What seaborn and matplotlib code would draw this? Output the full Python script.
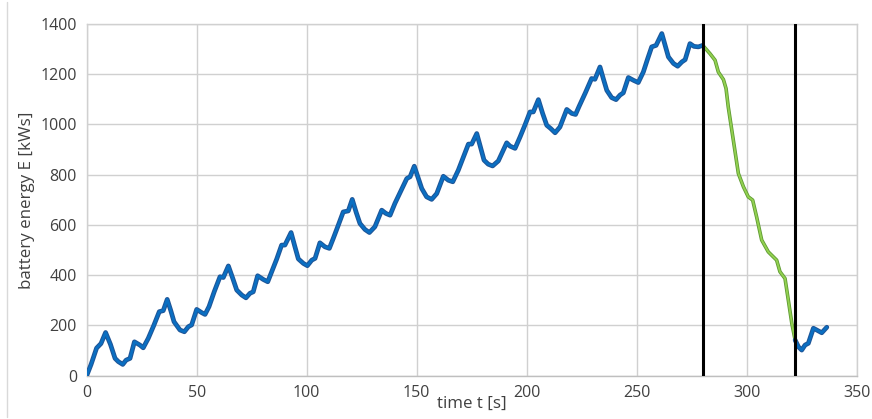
import matplotlib
matplotlib.use("Agg")
import matplotlib.pyplot as plt
import matplotlib.patheffects as pe
import seaborn as sns
import pandas as pd

# Battery energy over time: charging phase, discharge phase, recovery
t_charge = [0, 2, 4.5, 6.5, 8.6, 10.8, 12.9, 14.4, 16.4, 17.9, 19.7, 21.7, 24.2, 25.7, 28, 30.5,
            33, 34.8, 36.6, 38.2, 39.7, 42.4, 44.4, 46.2, 47.7, 50, 52.3, 53.8, 55.6, 58, 60.6,
            62.1, 64.4, 66.3, 68.2, 70.5, 72.4, 74.2, 75.7, 77.7, 80.3, 82.3, 84.1, 86.4, 88.6,
            90.1, 92.9, 94.6, 96.2, 98.5, 100.3, 102.3, 103.8, 106, 108.3, 110.3, 112.1, 114.4,
            116.6, 118.9, 120.7, 122.5, 124.2, 126.5, 128.5, 131, 134.1, 136, 137.9, 140.1,
            142.8, 145.5, 147, 148.9, 150.6, 152.3, 154.5, 156.8, 159.1, 162.1, 164.4, 166.4,
            168.9, 171.2, 173.5, 175, 177.3, 179, 180.6, 182.5, 184.5, 187.1, 190.9, 192.4,
            194.7, 197, 199.3, 201.5, 203, 205.3, 207.2, 209.1, 210.9, 212.9, 215.1, 218.2,
            220.5, 222.2, 223.8, 226.6, 229.5, 231, 233.3, 234.9, 236.4, 238.6, 240.6, 242.4,
            243.9, 246.2, 248.5, 250.7, 253, 254.9, 256.8, 258.8, 261.4, 262.9, 264.4, 266.7,
            268.6, 270.5, 272, 274.2, 276, 278, 280]
e_charge = [0, 45, 110, 128, 172, 125, 69, 56, 45, 62, 69, 135, 122, 111, 149, 200,
            255, 259, 304, 260, 215, 182, 175, 195, 202, 264, 251, 244, 275, 335, 394,
            391, 437, 390, 341, 321, 310, 328, 334, 398, 383, 374, 414, 465, 520,
            520, 570, 515, 465, 447, 438, 460, 467, 529, 513, 507, 547, 600,
            652, 656, 702, 650, 606, 582, 570, 593, 659, 646, 639, 686,
            735, 785, 792, 834, 790, 745, 712, 702, 725, 794, 778, 772,
            818, 870, 922, 922, 964, 910, 858, 842, 835, 855, 927, 914,
            905, 951, 1000, 1050, 1050, 1099, 1045, 997, 984, 967, 990, 1060,
            1044, 1040, 1072, 1125, 1183, 1180, 1229, 1180, 1136, 1107, 1099, 1117,
            1126, 1187, 1176, 1167, 1209, 1260, 1309, 1315, 1362, 1315, 1269, 1243,
            1232, 1249, 1258, 1322, 1311, 1309, 1315]

t_discharge = [280, 283.3, 285.6, 287.1, 289.4, 290.6, 291.6, 293.9, 296.2, 298.5, 300.7,
               302.7, 304.5, 306.8, 309.8, 313.6, 315.1, 317.4, 318.9, 320.5, 322]
e_discharge = [1315, 1282, 1256, 1209, 1179, 1143, 1070, 938, 805, 752, 712,
               699, 632, 540, 493, 460, 414, 387, 301, 208, 142]

t_recover = [322, 323.5, 325, 326.5, 328, 330.3, 331.8, 334.1, 336.4]
e_recover = [142, 115, 102, 122, 129, 189, 182, 171, 193]

phase_bounds = [280, 322]

x_ticks = [0, 50, 100, 150, 200, 250, 300, 350]
y_ticks = [0, 200, 400, 600, 800, 1000, 1200, 1400]

frames = []
for name, t, e in [("charge", t_charge, e_charge),
                   ("discharge", t_discharge, e_discharge),
                   ("recover", t_recover, e_recover)]:
    frames.append(pd.DataFrame({"t": t, "E": e, "phase": name}))
df = pd.concat(frames, ignore_index=True)

sns.set_theme(style="white")
plt.rcParams["font.family"] = ["Open Sans", "DejaVu Sans"]

fig = plt.figure(figsize=(8.72, 4.19), dpi=100)
ax = fig.add_axes([0.0994, 0.1033, 0.8831, 0.8394])

blue_fx = [pe.Stroke(linewidth=3.4, foreground="#1f5597"), pe.Normal()]
green_fx = [pe.Stroke(linewidth=2.6, foreground="#5e9a32"), pe.Normal()]

for phase, color, lw, fx in [("charge", "#0a6fc2", 1.9, blue_fx),
                             ("discharge", "#92d050", 1.4, green_fx),
                             ("recover", "#0a6fc2", 1.9, blue_fx)]:
    sub = df[df["phase"] == phase]
    sns.lineplot(data=sub, x="t", y="E", ax=ax, color=color, linewidth=lw,
                 sort=False, estimator=None, legend=False,
                 path_effects=fx, zorder=4 if phase != "discharge" else 3,
                 solid_joinstyle="round", solid_capstyle="round")

for b in phase_bounds:
    ax.axvline(b, color="black", linewidth=2.2, zorder=5)

ax.set_xlim(0, 350)
ax.set_ylim(0, 1400)
ax.set_xticks(x_ticks)
ax.set_yticks(y_ticks)
ax.grid(True, color="#d0d0d0", linewidth=1.0)
ax.set_axisbelow(True)
for s in ax.spines.values():
    s.set_color("#d0d0d0")
    s.set_linewidth(1.0)
ax.spines["bottom"].set_color("#bfbfbf")
ax.tick_params(axis="both", length=0, labelsize=11.5, labelcolor="#404040", pad=7)
ax.tick_params(axis="x", pad=7)

ax.set_xlabel("time t [s]", fontsize=12.2, color="#404040", labelpad=-4)
ax.set_ylabel("battery energy E [kWs]", fontsize=12.2, color="#404040", labelpad=4)

# outer frame line on the left of the chart area
fig.add_artist(plt.Line2D([0.008, 0.008], [0.005, 0.995], color="#d9d9d9", linewidth=1.0))

fig.savefig("out.png", dpi=100)
